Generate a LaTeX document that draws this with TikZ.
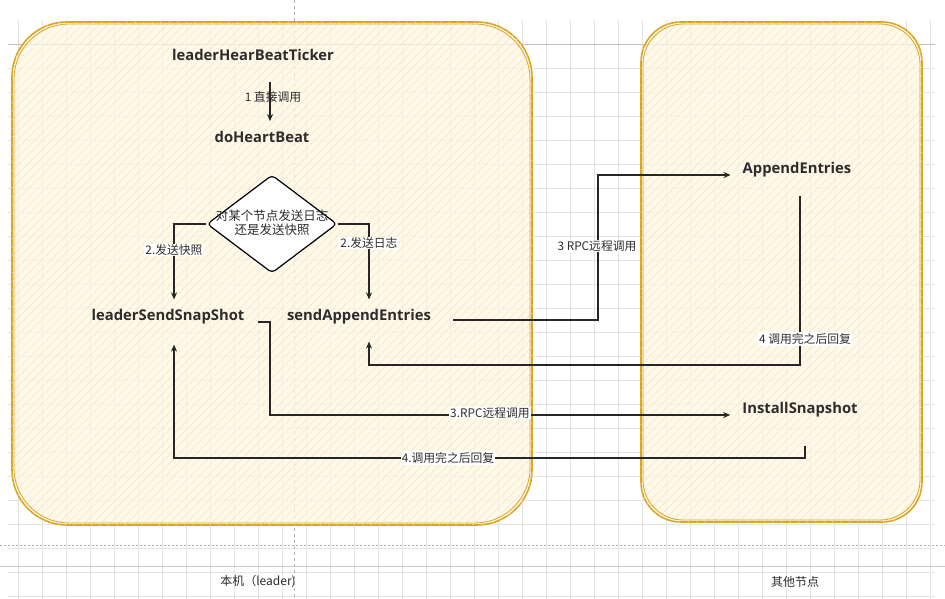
\documentclass[tikz,border=0pt]{standalone}
\usepackage{fontspec}
\setmainfont{Open Sans}
\newfontfamily\cjk{Noto Sans CJK SC}
\usetikzlibrary{arrows.meta,shapes.geometric,patterns.meta}
\definecolor{boxline}{RGB}{217,166,33}
\definecolor{boxfill}{RGB}{255,247,228}
\definecolor{hatchc}{RGB}{244,226,196}
\definecolor{gridc}{RGB}{228,228,228}
\definecolor{txt}{RGB}{45,45,45}
\tikzset{
  fname/.style={font=\fontsize{14.8}{17}\selectfont\bfseries, text=txt, inner sep=2pt},
  lab/.style={font=\cjk\fontsize{11.8}{13}\selectfont, text=txt, fill=white, inner sep=1pt},
  botlab/.style={font=\cjk\fontsize{12}{14}\selectfont, text=txt, inner sep=1pt},
  arr/.style={-{Stealth[length=7pt,width=6pt]}, line width=1.1pt, draw=black!85},
  cont/.style={draw=boxline, line width=1.6pt, fill=boxfill, fill opacity=0.75},
  hatch/.style={pattern={Lines[angle=45,distance=6pt,line width=0.5pt]}, pattern color=hatchc}
}
\begin{document}
\begin{tikzpicture}[x=1pt,y=-1pt]
\useasboundingbox (0,0) rectangle (945,599);
\fill[white] (0,0) rectangle (945,599);
% grid
\foreach \x in {18,42,...,930} \draw[gridc,line width=0.5pt] (\x,20) -- (\x,599);
\foreach \y in {44,68,...,599} \draw[gridc,line width=0.5pt] (8,\y) -- (935,\y);
\draw[black!25,line width=0.6pt] (8,44) -- (935,44);
\draw[black!30,dashed,line width=0.6pt] (294,0) -- (294,599);
\draw[black!30,dashed,dash pattern=on 2pt off 2pt,line width=0.6pt] (0,545) -- (945,545);
\draw[black!20,line width=0.6pt] (0,566) -- (945,566);
% containers
\path[cont, rounded corners=55pt] (12,22) rectangle (532,525);
\path[hatch, rounded corners=55pt] (12,22) rectangle (532,525);
\draw[boxline, line width=0.8pt, rounded corners=55pt] (14,24) rectangle (530,523);
\path[cont, rounded corners=40pt] (641,22) rectangle (922,522);
\path[hatch, rounded corners=40pt] (641,22) rectangle (922,522);
\draw[boxline, line width=0.8pt, rounded corners=40pt] (643,24) rectangle (920,520);
% nodes
\node[fname] (ticker) at (253,55) {leaderHearBeatTicker};
\node[fname] (hb) at (262,137) {doHeartBeat};
\node[draw=black, line width=1.2pt, fill=white, shape=diamond, minimum width=130pt, minimum height=98pt, inner sep=0pt, rounded corners=4pt] (d) at (272,224) {};
\node[font=\cjk\fontsize{12.5}{14.5}\selectfont, text=txt, align=center, inner sep=0pt] (dt) at (272,223) {对某个节点发送日志\\还是发送快照};
\node[fname] (snap) at (168,317) {leaderSendSnapShot};
\node[fname] (sae) at (359,317) {sendAppendEntries};
\node[fname] (ae) at (797,170) {AppendEntries};
\node[fname] (is) at (800,410) {InstallSnapshot};
\node[botlab] (l1) at (258,582) {本机（leader)};
\node[botlab] (l2) at (795,582) {其他节点};
% corners
\coordinate (k1) at (598,320);
\coordinate (k2) at (800,365);
\coordinate (k3) at (270,415);
\coordinate (k4) at (805,458);
% connectors
\draw[arr] ([shift={(17,19)}]ticker.south) -- ([shift={(8,-8)}]hb.north);
\node[lab, fill=none] at (273,97) {1 直接调用};
\draw[arr] (d.west) -| ([shift={(6,-8)}]snap.north);
\node[lab] at (174,250) {2.发送快照};
\draw[arr] (d.east) -| ([shift={(10,-8)}]sae.north);
\node[lab] at (369,243) {2.发送日志};
\draw[arr] ([shift={(20,3)}]sae.east) -- (k1) |- ([shift={(-10,5)}]ae.west);
\node[lab] at (597,246) {3 RPC远程调用};
\draw[arr] ([shift={(3,16)}]ae.south) -- (k2) -| ([shift={(10,15)}]sae.south);
\node[lab] at (805,339) {4 调用完之后回复};
\draw[arr] ([shift={(11,5)}]snap.east) -| (k3) -- ([shift={(-10,5)}]is.west);
\node[lab] at (490,413) {3.RPC远程调用};
\draw[arr] ([shift={(5,26)}]is.south) -- (k4) -| ([shift={(6,18)}]snap.south);
\node[lab] at (448,458) {4.调用完之后回复};
\end{tikzpicture}
\end{document}
